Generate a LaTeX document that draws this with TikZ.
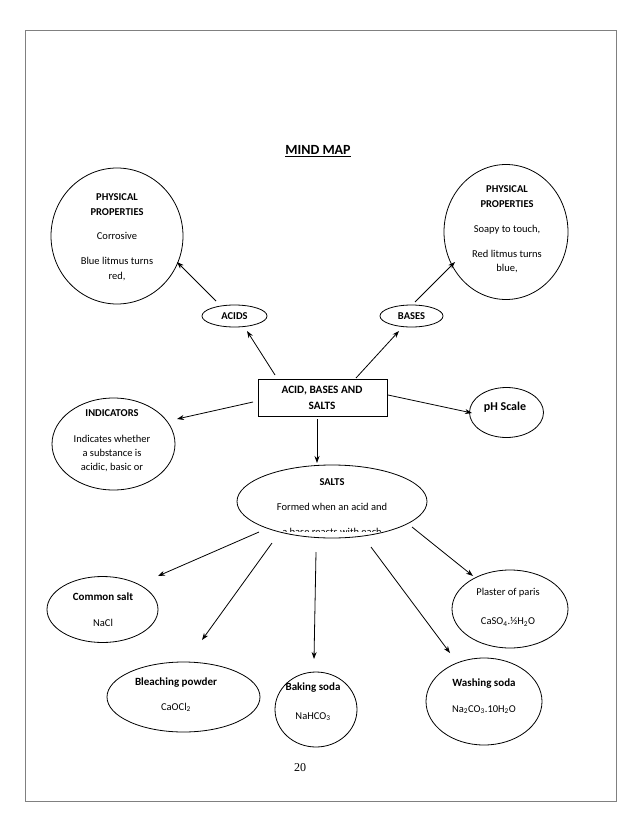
\documentclass[tikz,border=0pt]{standalone}
\usepackage{fontspec}
\setmainfont{Carlito}
\newfontfamily\serifpg{Liberation Serif}
\usetikzlibrary{shapes.geometric,arrows.meta}
\begin{document}
\begin{tikzpicture}[x=1pt,y=-1pt,
  oval/.style={draw,ellipse,line width=0.8pt,inner sep=0pt},
  txt/.style={align=center,font=\fontsize{10.5}{15}\selectfont,inner sep=0pt},
  arr/.style={line width=0.8pt,-{Stealth[length=7pt,width=5pt]}}]
\useasboundingbox (0,0) rectangle (638,826);
\fill[white] (0,0) rectangle (638,826);
\draw[gray,line width=1pt] (25,31) rectangle (616,801);

% title and page number
\node[font=\fontsize{14}{16}\selectfont\bfseries,inner sep=0pt] (title) at (318,151) {\underline{MIND MAP}};
\node[font=\serifpg\fontsize{12}{14}\selectfont,inner sep=0pt] (pg) at (300,768) {20};

% central box
\node[draw,line width=0.8pt,minimum width=129pt,minimum height=37pt,inner sep=0pt] (c) at (322.5,397.5) {};
\node[txt,font=\fontsize{11.25}{15}\selectfont\bfseries] (ct) at (322,398) {ACID, BASES AND\\[1pt]SALTS};

% ellipses
\node[oval,minimum width=132pt,minimum height=136pt] (tl) at (117,236) {};
\node[oval,minimum width=124pt,minimum height=135pt] (tr) at (506,232) {};
\node[oval,minimum width=65pt,minimum height=22pt] (acids) at (234.5,316) {};
\node[oval,minimum width=63pt,minimum height=22pt] (bases) at (411.5,316) {};
\node[oval,minimum width=123pt,minimum height=92pt] (ind) at (113.5,444) {};
\node[oval,minimum width=74pt,minimum height=50pt] (ph) at (506.5,412.5) {};
\node[oval,minimum width=190pt,minimum height=73pt] (salts) at (332,501.5) {};
\node[oval,minimum width=111pt,minimum height=66pt] (common) at (102.5,609.5) {};
\node[oval,minimum width=116pt,minimum height=78pt] (plaster) at (510,609) {};
\node[oval,minimum width=153pt,minimum height=70pt] (bleach) at (183.5,697) {};
\node[oval,minimum width=82pt,minimum height=75pt] (baking) at (316,709.5) {};
\node[oval,minimum width=116pt,minimum height=87pt] (washing) at (484,701.5) {};

% texts
\node[txt] (tlt) at (117,237.5) {\textbf{PHYSICAL}\\\textbf{PROPERTIES}\\[9pt]Corrosive\\[10pt]Blue litmus turns\\red,};
\node[txt] (trt) at (507,229.5) {\textbf{PHYSICAL}\\\textbf{PROPERTIES}\\[10pt]Soapy to touch,\\[10pt]Red litmus turns\\[-1pt]blue,};
\node[txt,font=\fontsize{10.5}{15}\selectfont\bfseries] (acidst) at (234.5,316) {ACIDS};
\node[txt,font=\fontsize{10.5}{15}\selectfont\bfseries] (basest) at (411.5,316) {BASES};
\node[txt,font=\fontsize{10.5}{14}\selectfont] (indt) at (112,441) {\textbf{INDICATORS}\\[12pt]Indicates whether\\a substance is\\acidic, basic or};
\node[txt,font=\fontsize{12}{15}\selectfont\bfseries] (pht) at (505,407) {pH Scale};
\begin{scope}
\clip (200,460) rectangle (460,531);
\node[txt] (saltst) at (332,507) {\textbf{SALTS}\\[10pt]Formed when an acid and\\[10pt]a base reacts with each};
\end{scope}
\node[txt] (commont) at (103,610) {{\fontsize{11}{15}\selectfont\textbf{Common salt}}\\[11pt]NaCl};
\node[txt] (plastert) at (508,607.5) {Plaster of paris\\[14pt]CaSO\textsubscript{4}.½H\textsubscript{2}O};
\node[txt] (bleacht) at (176,694.5) {{\fontsize{11}{15}\selectfont\textbf{Bleaching powder}}\\[10pt]CaOCl\textsubscript{2}};
\node[txt] (bakingt) at (313,701.5) {{\fontsize{11}{15}\selectfont\textbf{Baking soda}}\\[14pt]NaHCO\textsubscript{3}};
\node[txt] (washingt) at (484,696) {{\fontsize{11}{15}\selectfont\textbf{Washing soda}}\\[11pt]Na\textsubscript{2}CO\textsubscript{3}.10H\textsubscript{2}O};

% connector end points
\coordinate (a1) at (275,375); \coordinate (b1) at (247,331);
\coordinate (a2) at (356,378); \coordinate (b2) at (399,331);
\coordinate (a3) at (216,301); \coordinate (b3) at (177,262);
\coordinate (a4) at (415,302); \coordinate (b4) at (455,262);
\coordinate (a5) at (253,402); \coordinate (b5) at (177,419);
\coordinate (a6) at (388,395); \coordinate (b6) at (472,413);
\coordinate (a7) at (317,419); \coordinate (b7) at (317,463);
\coordinate (a8) at (259,532); \coordinate (b8) at (158,576);
\coordinate (a9) at (272,543); \coordinate (b9) at (202,640);
\coordinate (a10) at (316,552); \coordinate (b10) at (314,659);
\coordinate (a11) at (371,547); \coordinate (b11) at (450,653);
\coordinate (a12) at (412,527); \coordinate (b12) at (473,576);

\foreach \i in {1,...,12} \draw[arr] (a\i) -- (b\i);
\end{tikzpicture}
\end{document}
